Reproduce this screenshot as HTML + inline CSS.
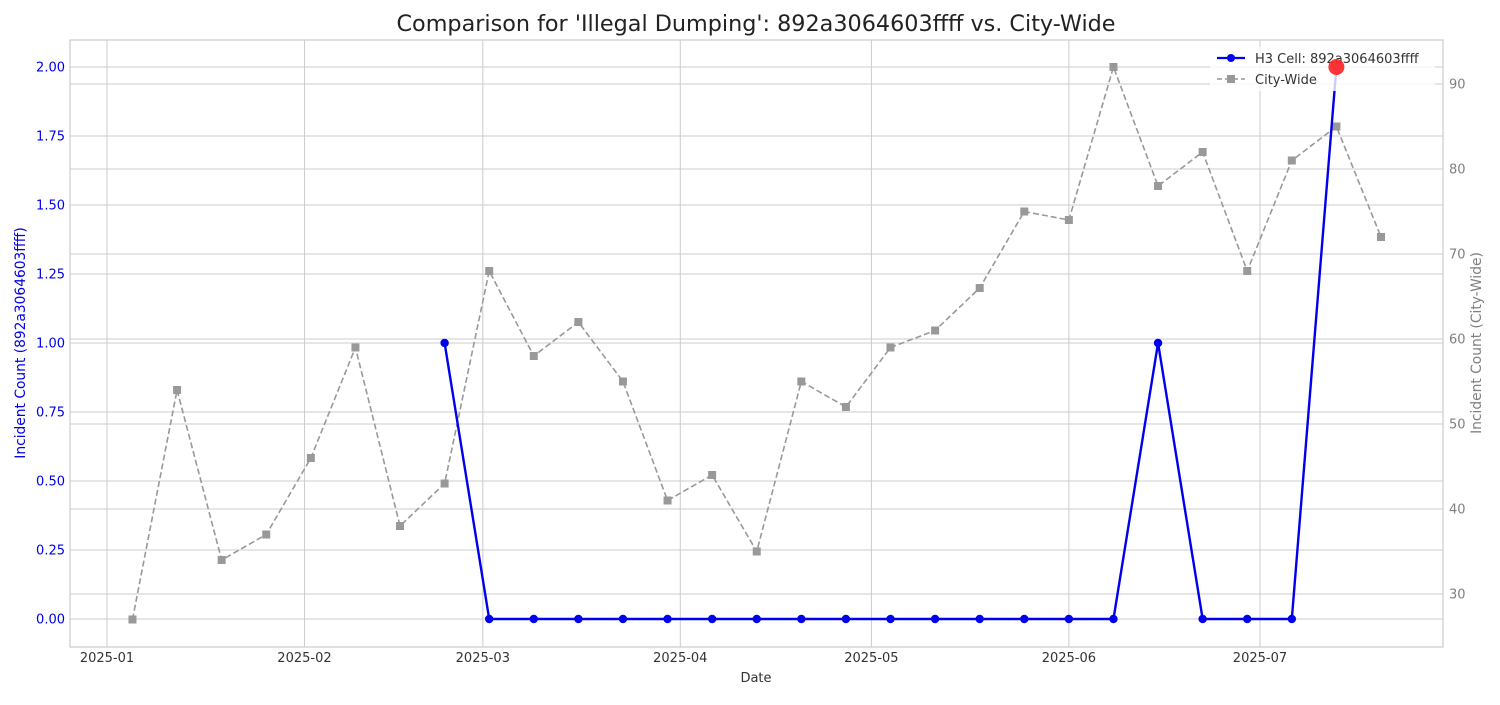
<!DOCTYPE html>
<html><head><meta charset="utf-8"><style>
body{margin:0;background:#fff;font-family:"Liberation Sans","DejaVu Sans",sans-serif;}
svg text{font-family:"DejaVu Sans","Liberation Sans",sans-serif;}
</style></head><body>
<svg id="chart" width="1500" height="700" xmlns="http://www.w3.org/2000/svg">
<rect x="0" y="0" width="1500" height="700" fill="#fff"/>
<text x="756" y="31" text-anchor="middle" font-size="22.3" fill="#222">Comparison for 'Illegal Dumping': 892a3064603ffff vs. City-Wide</text>
<g id="grid"></g>
<g id="axes"></g>
<g id="series"></g>
<rect x="70" y="40" width="1373" height="607" fill="none" stroke="#ccc" stroke-width="1.2"/>
<g>
 <rect x="1210" y="47" width="225" height="44" fill="#fff" fill-opacity="0.8"/>
 <g>
  <line x1="1217" y1="58" x2="1245" y2="58" stroke="#0000ee" stroke-width="2.2"/>
  <circle cx="1231" cy="58" r="4" fill="#0000ee"/>
  <text x="1255" y="63" font-size="13" fill="#333">H3 Cell: 892a3064603ffff</text>
 </g>
 <g>
  <line x1="1217" y1="79" x2="1245" y2="79" stroke="#999" stroke-width="1.6" stroke-dasharray="5,3"/>
  <rect x="1227" y="75" width="8" height="8" fill="#999"/>
  <text x="1255" y="84" font-size="13" fill="#333">City-Wide</text>
 </g>
</g>
<g id="highlight"></g>
<text x="756" y="682" text-anchor="middle" font-size="13" fill="#333">Date</text>
<text transform="translate(25,343) rotate(-90)" text-anchor="middle" font-size="13.8" fill="#0000ee">Incident Count (892a3064603ffff)</text>
<text transform="translate(1481,343) rotate(-90)" text-anchor="middle" font-size="13.8" fill="#808080">Incident Count (City-Wide)</text>
</svg>
<script>
const cityStart = "2025-01-05";
const cityValues = [27,54,34,37,46,59,38,43,68,58,62,55,41,44,35,55,52,59,61,66,75,74,92,78,82,68,81,85,72];
const h3Start = "2025-02-23";
const h3Values = [1,0,0,0,0,0,0,0,0,0,0,0,0,0,0,0,1,0,0,0,2];
const leftTicks = [0,0.25,0.5,0.75,1.0,1.25,1.5,1.75,2.0];
const rightTicks = [30,40,50,60,70,80,90];
const monthTicks = ["2025-01","2025-02","2025-03","2025-04","2025-05","2025-06","2025-07"];

const NS="http://www.w3.org/2000/svg";
const day0=Date.UTC(2025,0,1), DAY=86400000;
function dnum(s){const p=s.split("-");return (Date.UTC(+p[0],+p[1]-1,+(p[2]||1))-day0)/DAY;}
function xS(d){return 107+d*6.37;}
function yL(v){return 619-v*276;}
function yR(v){return 594-(v-30)*8.5;}
function mk(tag,attrs,parent){const e=document.createElementNS(NS,tag);for(const k in attrs)e.setAttribute(k,attrs[k]);parent.appendChild(e);return e;}
const grid=document.getElementById("grid"),axes=document.getElementById("axes"),ser=document.getElementById("series"),hlg=document.getElementById("highlight");

monthTicks.forEach(m=>{const x=xS(dnum(m));
 const l=mk("line",{x1:x,x2:x,y1:40,y2:647,stroke:"#ccc","stroke-width":1},grid);
 
 
 const t=mk("text",{x:x,y:662,"text-anchor":"middle","font-size":13,fill:"#333"},axes);t.textContent=m;
 
 
});
leftTicks.forEach(v=>{const y=yL(v);
 const l=mk("line",{x1:70,x2:1443,y1:y,y2:y,stroke:"#ccc","stroke-width":1},grid);
 
 
 const t=mk("text",{x:65,y:y+4.5,"text-anchor":"end","font-size":13,fill:"#0000ee"},axes);t.textContent=v.toFixed(2);
 
 
});
rightTicks.forEach(v=>{const y=yR(v);
 const l=mk("line",{x1:70,x2:1443,y1:y,y2:y,stroke:"#ccc","stroke-width":1},grid);
 
 
 const t=mk("text",{x:1449,y:y+4.5,"text-anchor":"start","font-size":13,fill:"#808080"},axes);t.textContent=v;
 
 
});

const c0=dnum(cityStart);
const cpts=cityValues.map((v,i)=>[xS(c0+7*i),yR(v)]);
const cl=mk("polyline",{points:cpts.map(p=>p.join(",")).join(" "),fill:"none",stroke:"#999","stroke-width":1.6,"stroke-dasharray":"6,3"},ser);


cpts.forEach(p=>{const r=mk("rect",{x:p[0]-4,y:p[1]-4,width:8,height:8,fill:"#999"},ser);
 
 
});

const h0=dnum(h3Start);
const hpts=h3Values.map((v,i)=>[xS(h0+7*i),yL(v)]);
const hl=mk("polyline",{points:hpts.map(p=>p.join(",")).join(" "),fill:"none",stroke:"#0000ee","stroke-width":2.4},ser);


hpts.forEach(p=>{const c=mk("circle",{cx:p[0],cy:p[1],r:4.2,fill:"#0000ee"},ser);
 
 
});
let mi=0;h3Values.forEach((v,i)=>{if(v>h3Values[mi])mi=i;});
const hc=mk("circle",{cx:hpts[mi][0],cy:hpts[mi][1],r:8,fill:"#ff2020","fill-opacity":0.9},hlg);


</script>
</body></html>
